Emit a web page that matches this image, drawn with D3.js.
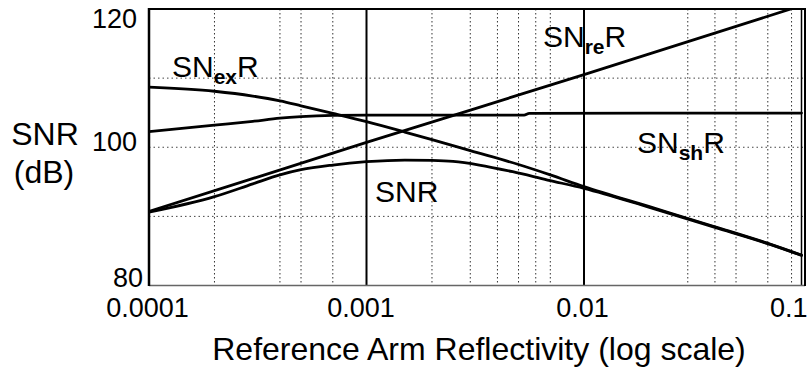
<!DOCTYPE html>
<html>
<head>
<meta charset="utf-8">
<script src="https://cdn.jsdelivr.net/npm/d3@7"></script>
<style>
  html, body { margin: 0; padding: 0; background: #fff; }
  svg { display: block; font-family: "Liberation Sans", Arial, Helvetica, sans-serif; }
</style>
</head>
<body>
<svg id="chart" width="810" height="370"></svg>
<script>
// ---- data ----
const xTickValues = [1e-4, 1e-3, 1e-2, 1e-1];
const xTickLabels = ["0.0001", "0.001", "0.01", "0.1"];
const yTickValues = [80, 100, 120];
const yTickLabels = ["80", "100", "120"];
const gridMajorX = [1e-3, 1e-2, 1e-1];
const gridMinorX = [2e-4, 4e-4, 5e-4, 7e-4, 2e-3, 3e-3, 4e-3, 5e-3, 6e-3, 7e-3, 3e-2, 4e-2, 5e-2, 7e-2, 9e-2];
const gridY = [90, 100, 110];

const snexR_R  = [1e-4, 2e-4, 3e-4, 4e-4, 5e-4, 7e-4, 1e-3, 1.5e-3, 2e-3, 3e-3, 5e-3, 7e-3, 1e-2, 2e-2, 4e-2, 7e-2, 1e-1];
const snexR_dB = [108.7, 108.1, 107.4, 106.7, 106.0, 104.9, 103.7, 102.2, 101.1, 99.5, 97.5, 96.0, 94.3, 91.4, 88.5, 86.1, 84.4];

const snreR_R  = [1e-4, 1e-3, 1e-2, 1e-1];
const snreR_dB = [90.7, 100.7, 110.5, 120.5];

const snshR_R  = [1e-4, 2e-4, 3e-4, 4e-4, 5e-4, 7e-4, 1e-3, 5.3e-3, 5.6e-3, 1e-1];
const snshR_dB = [102.25, 103.2, 103.75, 104.2, 104.42, 104.6, 104.65, 104.65, 104.9, 104.95];

const snr_R  = [1e-4, 2e-4, 3e-4, 4e-4, 5e-4, 7e-4, 1e-3, 1.5e-3, 2e-3, 2.5e-3, 3.3e-3, 4.7e-3, 6.8e-3, 1e-2, 2e-2, 4e-2, 7e-2, 1e-1];
const snr_dB = [90.6, 92.85, 94.7, 96.0, 96.75, 97.43, 97.91, 98.15, 98.1, 97.95, 97.43, 96.46, 95.26, 94.06, 91.3, 88.4, 86.05, 84.35];

const series = [
  { R: snexR_R, dB: snexR_dB },
  { R: snreR_R, dB: snreR_dB },
  { R: snshR_R, dB: snshR_dB },
  { R: snr_R,   dB: snr_dB }
];

const curveLabels = [
  { main: "SN", sub: "ex", tail: "R" },
  { main: "SN", sub: "re", tail: "R" },
  { main: "SN", sub: "sh", tail: "R" },
  { main: "SNR", sub: "", tail: "" }
];
// label anchor positions (pixels)
const labelPos = [[172, 77], [543, 47], [637, 153], [375, 202]];

// ---- layout ----
const svg = d3.select("#chart");
const pLeft = 149, pRight = 801.5, pTop = 9, pBottom = 285.5, frameRight = 805;

const x = d3.scaleLog().domain([1e-4, 1e-1]).range([pLeft, pRight]);
const y = d3.scaleLinear().domain([80, 120]).range([pBottom, pTop]);

svg.append("defs").append("clipPath").attr("id", "clip")
  .append("rect").attr("x", pLeft).attr("y", pTop).attr("width", frameRight - pLeft).attr("height", pBottom - pTop);

// minor dotted gridlines
svg.append("g").selectAll("line").data(gridMinorX).join("line")
  .attr("x1", d => x(d)).attr("x2", d => x(d))
  .attr("y1", pTop).attr("y2", pBottom)
  .attr("stroke", "#333").attr("stroke-width", 1)
  .attr("stroke-dasharray", "1.5,2.5");

svg.append("g").selectAll("line").data(gridY).join("line")
  .attr("x1", pLeft).attr("x2", frameRight)
  .attr("y1", d => y(d)).attr("y2", d => y(d))
  .attr("stroke", "#444").attr("stroke-width", 1)
  .attr("stroke-dasharray", "1.5,3");

// major solid gridlines
svg.append("g").selectAll("line").data(gridMajorX).join("line")
  .attr("x1", d => x(d)).attr("x2", d => x(d))
  .attr("y1", pTop).attr("y2", pBottom)
  .attr("stroke", "#000").attr("stroke-width", d => d === 1e-1 ? 1.5 : 2);

// frame
svg.append("line").attr("x1", pLeft).attr("x2", frameRight).attr("y1", pTop).attr("y2", pTop)
  .attr("stroke", "#000").attr("stroke-width", 2);
svg.append("line").attr("x1", pLeft).attr("x2", frameRight).attr("y1", pBottom).attr("y2", pBottom)
  .attr("stroke", "#666").attr("stroke-width", 1.5);
svg.append("line").attr("x1", pLeft).attr("x2", pLeft).attr("y1", pTop - 1).attr("y2", pBottom + 0.5)
  .attr("stroke", "#000").attr("stroke-width", 2.5);
svg.append("line").attr("x1", frameRight).attr("x2", frameRight).attr("y1", pTop - 1).attr("y2", pBottom + 0.5)
  .attr("stroke", "#000").attr("stroke-width", 2);

// curves
const line = d3.line().x(d => x(d[0])).y(d => y(d[1])).curve(d3.curveMonotoneX);
svg.append("g").attr("clip-path", "url(#clip)")
  .selectAll("path").data(series).join("path")
  .attr("d", s => line(s.R.map((r, i) => [r, s.dB[i]])))
  .attr("fill", "none").attr("stroke", "#000").attr("stroke-width", 2.8)
  .attr("stroke-linejoin", "round").attr("stroke-linecap", "round");

// axes
const xAxis = d3.axisBottom(x).tickValues(xTickValues)
  .tickFormat((d, i) => xTickLabels[i]).tickSize(0).tickPadding(0);
const gx = svg.append("g").attr("transform", `translate(0,${pBottom})`).call(xAxis);
gx.select(".domain").remove();
gx.selectAll("text").attr("font-size", 27).attr("fill", "#000")
  .attr("font-family", "'Liberation Sans', Arial, sans-serif")
  .attr("dy", null).attr("y", 31.5)
  .attr("text-anchor", (d, i) => i === xTickValues.length - 1 ? "end" : "middle")
  .attr("dx", (d, i) => i === xTickValues.length - 1 ? 5.5 : (i === 1 ? -6 : -2));

const yAxis = d3.axisLeft(y).tickValues(yTickValues)
  .tickFormat((d, i) => yTickLabels[i]).tickSize(0).tickPadding(0);
const gy = svg.append("g").attr("transform", `translate(${pLeft},0)`).call(yAxis);
gy.select(".domain").remove();
gy.selectAll("text").attr("font-size", 27).attr("fill", "#000")
  .attr("font-family", "'Liberation Sans', Arial, sans-serif")
  .attr("dy", null)
  .attr("x", d => d === 80 ? -6 : -12)
  .attr("y", d => d === 120 ? 18 : (d === 100 ? 3 : 0.5));

// axis titles
svg.append("text").attr("x", 479).attr("y", 360).attr("text-anchor", "middle")
  .attr("font-size", 32).text("Reference Arm Reflectivity (log scale)");
svg.append("text").attr("x", 45).attr("y", 145).attr("text-anchor", "middle")
  .attr("font-size", 32).text("SNR");
svg.append("text").attr("x", 44).attr("y", 183).attr("text-anchor", "middle")
  .attr("font-size", 32).text("(dB)");

// curve labels
curveLabels.forEach((lab, i) => {
  const t = svg.append("text").attr("x", labelPos[i][0]).attr("y", labelPos[i][1])
    .attr("font-size", 30);
  t.append("tspan").text(lab.main);
  if (lab.sub) {
    t.append("tspan").attr("font-size", 21).attr("font-weight", "bold").attr("dy", 7).text(lab.sub);
    t.append("tspan").attr("dy", -7).text(lab.tail);
  }
});
</script>
</body>
</html>
